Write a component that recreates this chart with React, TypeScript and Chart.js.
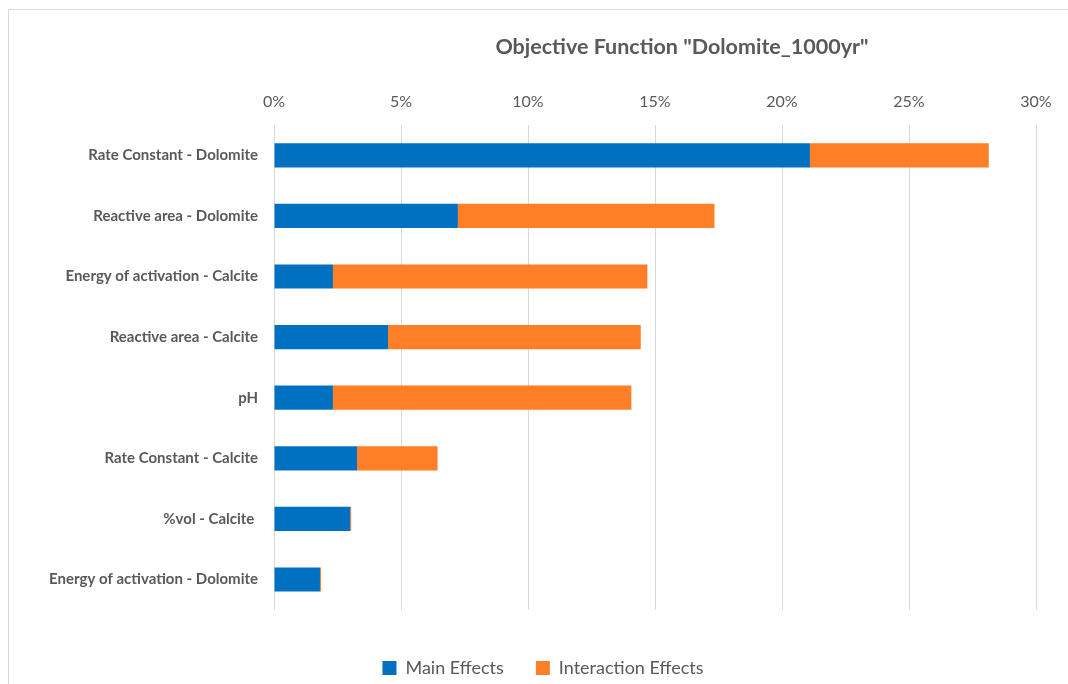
import React, { useEffect, useRef } from "react";
import { Chart, registerables } from "chart.js";

Chart.register(...registerables);

const categories = [
  "Rate Constant - Dolomite",
  "Reactive area - Dolomite",
  "Energy of activation - Calcite",
  "Reactive area - Calcite",
  "pH",
  "Rate Constant - Calcite",
  "%vol - Calcite ",
  "Energy of activation - Dolomite",
];

// Sensitivity indices (fraction of variance)
const mainEffects = [0.211, 0.0724, 0.0232, 0.0449, 0.0232, 0.0327, 0.030, 0.0181];
const interactionEffects = [0.0704, 0.101, 0.1238, 0.0995, 0.1175, 0.0317, 0.0004, 0.0004];

const xTicks = [0, 0.05, 0.1, 0.15, 0.2, 0.25, 0.3];

const chartTitle = 'Objective Function "Dolomite_1000yr"';

const TEXT = "#595959";
const GRID = "#d9d9d9";
const BLUE = "#0070C0";
const ORANGE = "#FF7F27";

const titlePlugin = {
  id: "fixedTitle",
  afterDraw(chart: any) {
    const { ctx } = chart;
    ctx.save();
    ctx.font = "bold 21.5px Lato";
    ctx.fillStyle = TEXT;
    ctx.textAlign = "center";
    ctx.textBaseline = "middle";
    ctx.fillText(chartTitle, 682, 47);
    ctx.restore();
  },
};

export default function App() {
  const canvasRef = useRef<HTMLCanvasElement | null>(null);

  useEffect(() => {
    if (!canvasRef.current) return;
    const chart = new Chart(canvasRef.current, {
      type: "bar",
      data: {
        labels: categories,
        datasets: [
          {
            label: "Main Effects",
            data: mainEffects,
            backgroundColor: BLUE,
            barPercentage: 0.4,
            categoryPercentage: 1,
          },
          {
            label: "Interaction Effects",
            data: interactionEffects,
            backgroundColor: ORANGE,
            barPercentage: 0.4,
            categoryPercentage: 1,
          },
        ],
      },
      options: {
        indexAxis: "y",
        responsive: false,
        animation: false,
        devicePixelRatio: 1,
        layout: { padding: { left: 50, right: 32, top: 0, bottom: 3 } },
        scales: {
          x: {
            position: "top",
            stacked: true,
            min: 0,
            max: 0.3,
            afterBuildTicks: (scale: any) => {
              scale.ticks = xTicks.map((v) => ({ value: v }));
            },
            afterFit: (scale: any) => {
              scale.height = 125;
            },
            ticks: {
              callback: (v: any) => Math.round(Number(v) * 100) + "%",
              font: { family: "Lato", size: 16 },
              color: TEXT,
              padding: 14,
              maxRotation: 0,
            },
            grid: { color: GRID, lineWidth: 1, drawTicks: false },
            border: { display: false },
          },
          y: {
            stacked: true,
            afterFit: (scale: any) => {
              scale.width = 224;
            },
            ticks: {
              font: { family: "Lato", size: 15, weight: "bold" },
              color: TEXT,
              padding: 16,
            },
            grid: { display: false, drawTicks: false },
            border: { display: false },
          },
        },
        plugins: {
          title: { display: false },
          tooltip: { enabled: false },
          legend: {
            position: "bottom",
            title: {
              display: true,
              text: "",
              font: { size: 1 },
              padding: { top: 0, bottom: 16 },
            },
            labels: {
              boxWidth: 14,
              boxHeight: 14,
              padding: 32,
              color: TEXT,
              font: { family: "Lato", size: 18 },
            },
          },
        },
      },
      plugins: [titlePlugin],
    });
    return () => chart.destroy();
  }, []);

  return (
    <div>
      <div
        style={{
          position: "fixed",
          left: 8,
          top: 9,
          width: 1200,
          height: 800,
          border: `1px solid ${GRID}`,
          background: "#fff",
        }}
      />
      <canvas
        ref={canvasRef}
        width={1068}
        height={690}
        style={{ position: "fixed", left: 0, top: 0, width: 1068, height: 690 }}
      />
    </div>
  );
}
